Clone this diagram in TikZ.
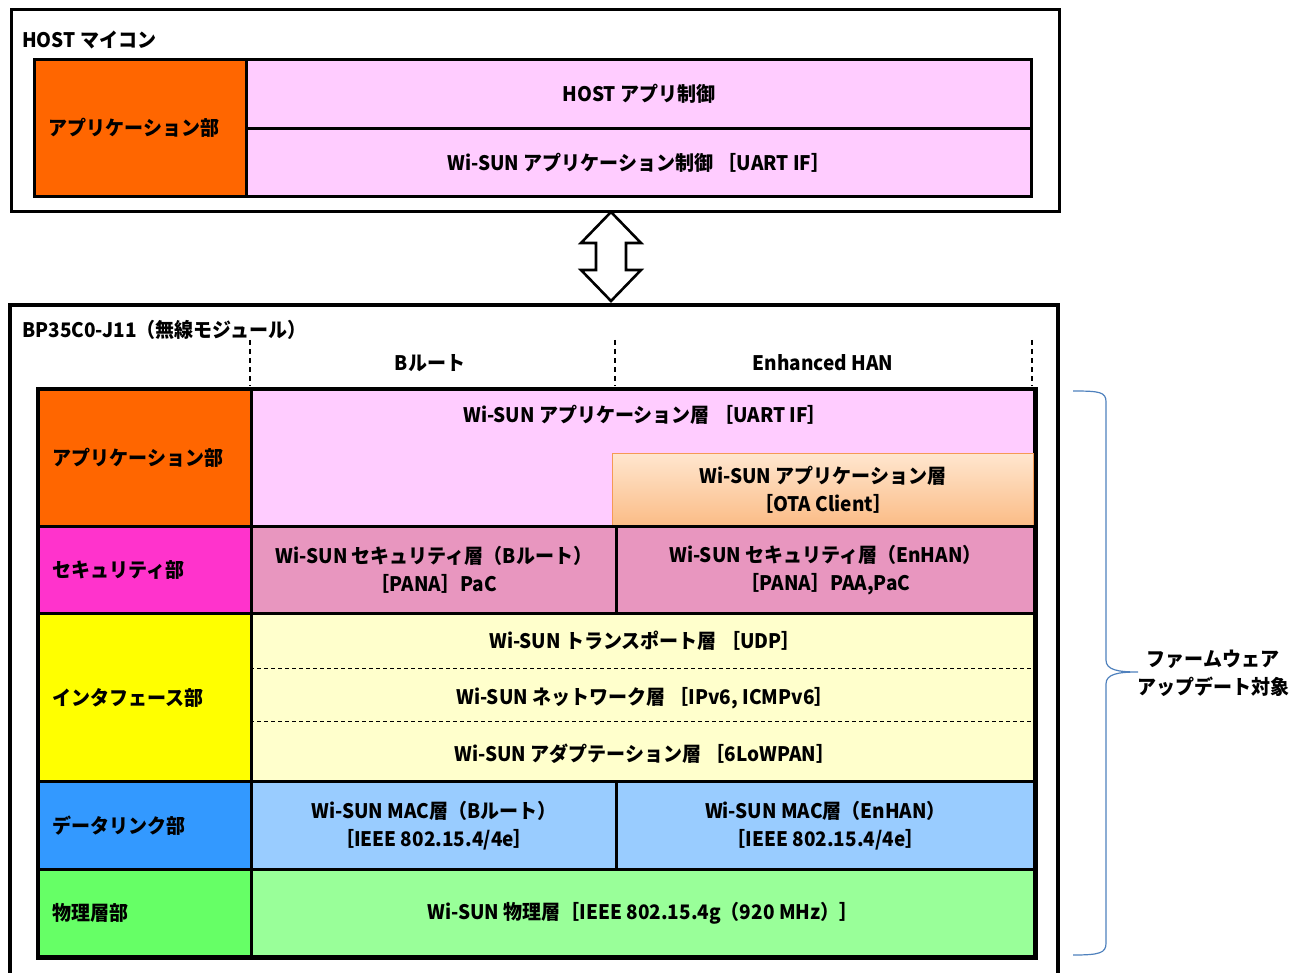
\documentclass[tikz,border=0pt]{standalone}
\usepackage{fontspec}
\setmainfont{Noto Sans CJK JP}[FakeStretch=0.95]
\usetikzlibrary{shadings}
\definecolor{cOrange}{HTML}{FF6600}
\definecolor{cPink}{HTML}{FFCCFF}
\definecolor{cMagenta}{HTML}{FF33CC}
\definecolor{cMauve}{HTML}{E896BF}
\definecolor{cYellow}{HTML}{FFFF00}
\definecolor{cLYellow}{HTML}{FFFFCC}
\definecolor{cBlue}{HTML}{3399FF}
\definecolor{cLBlue}{HTML}{99CCFF}
\definecolor{cGreen}{HTML}{66FF66}
\definecolor{cLGreen}{HTML}{99FF99}
\definecolor{cOtaTop}{HTML}{FFE6CE}
\definecolor{cOtaBot}{HTML}{FBBC86}
\definecolor{cOtaLine}{HTML}{F59A55}
\definecolor{cBrace}{HTML}{4F81BD}
\tikzset{
  x=1pt, y=-1pt,
  every node/.style={font=\fontsize{20}{28}\selectfont\bfseries},
  cell/.style={draw=black, line width=3pt, anchor=north west, inner sep=0pt, align=center},
  lcell/.style={cell, align=left, inner xsep=14pt},
  frame/.style={draw=black, line width=3.2pt},
  txt/.style={inner sep=0pt, align=center},
  otabox/.style={draw=cOtaLine, line width=1.2pt, anchor=north west, inner sep=0pt, align=center,
     top color=cOtaTop, bottom color=cOtaBot},
  sep/.style={draw=black, line width=1pt, dash pattern=on 4pt off 3pt},
  colsep/.style={draw=black, line width=1.2pt, dash pattern=on 5pt off 4pt},
  bigarrow/.style={draw=black, line width=2.6pt, fill=white, line join=miter},
  bracestyle/.style={draw=cBrace, line width=1.2pt}
}
\begin{document}
\begin{tikzpicture}
\useasboundingbox (0,0) rectangle (1295,973);
% ---------- HOST ----------
\node[frame, anchor=north west, minimum width=1048, minimum height=202, inner sep=0pt] (host) at (10,8) {};
\node[txt, anchor=west] (hostT) at (22,40) {HOST マイコン};
\node[lcell, fill=cOrange, minimum width=212, minimum height=137, text width=184] (hApp) at (33,58) {アプリケーション部};
\node[cell, fill=cPink, minimum width=785, minimum height=69] (hCtl) at (245,58) {HOST アプリ制御};
\node[cell, fill=cPink, minimum width=785, minimum height=68] (hWs) at (245,127) {Wi-SUN アプリケーション制御 ［UART IF］};
% ---------- arrow ----------
\coordinate (aTop) at (611,212);
\coordinate (aBot) at (611,301);
\draw[bigarrow] (aTop) -- ++(-30,31) -- ++(15,0) -- ++(0,27) -- ++(-15,0) -- (aBot)
   -- ++(30,-31) -- ++(-15,0) -- ++(0,-27) -- ++(15,0) -- cycle;
% ---------- MODULE ----------
\draw[frame] (10,985) -- (10,305) -- (1058,305) -- (1058,985);
\node[txt, anchor=west] (modT) at (22,330) {BP35C0-J11（無線モジュール）};
\draw[colsep] (250,340) -- (250,386);
\draw[colsep] (615,340) -- (615,386);
\draw[colsep] (1032,340) -- (1032,386);
\node[txt] (colB) at (430,363) {Bルート};
\node[txt] (colE) at (823,363) {Enhanced HAN};
% application row
\node[lcell, fill=cOrange, minimum width=213, minimum height=137, text width=185] (mApp) at (37,388) {アプリケーション部};
\node[cell, fill=cPink, minimum width=783, minimum height=137] (mAppC) at (250,388) {};
\node[txt] (mAppT) at (645,415) {Wi-SUN アプリケーション層 ［UART IF］};
\node[otabox, minimum width=421, minimum height=72] (ota) at (612,453) {Wi-SUN アプリケーション層\\［OTA Client］};
% security row
\node[lcell, fill=cMagenta, minimum width=213, minimum height=87, text width=185] (mSec) at (37,525) {セキュリティ部};
\node[cell, fill=cMauve, minimum width=365, minimum height=87] (secB) at (250,525) {Wi-SUN セキュリティ層（Bルート）\\［PANA］PaC};
\node[cell, fill=cMauve, minimum width=418, minimum height=87] (secE) at (615,525) {Wi-SUN セキュリティ層（EnHAN）\\［PANA］PAA,PaC};
% interface row
\node[lcell, fill=cYellow, minimum width=213, minimum height=168, text width=185] (mIf) at (37,612) {インタフェース部};
\node[cell, fill=cLYellow, minimum width=783, minimum height=168] (ifC) at (250,612) {};
\draw[sep] (ifC.west |- 0,668) -- (ifC.east |- 0,668);
\draw[sep] (ifC.west |- 0,721) -- (ifC.east |- 0,721);
\node[txt] (udp) at (645,641) {Wi-SUN トランスポート層 ［UDP］};
\node[txt] (ipv6) at (645,698) {Wi-SUN ネットワーク層 ［IPv6, ICMPv6］};
\node[txt] (lowpan) at (645,754) {Wi-SUN アダプテーション層 ［6LoWPAN］};
% data link row
\node[lcell, fill=cBlue, minimum width=213, minimum height=88, text width=185] (mDl) at (37,780) {データリンク部};
\node[cell, fill=cLBlue, minimum width=365, minimum height=88] (macB) at (250,780) {Wi-SUN MAC層（Bルート）\\［IEEE 802.15.4/4e］};
\node[cell, fill=cLBlue, minimum width=418, minimum height=88] (macE) at (615,780) {Wi-SUN MAC層（EnHAN）\\［IEEE 802.15.4/4e］};
% physical row
\node[lcell, fill=cGreen, minimum width=213, minimum height=87, text width=185] (mPhy) at (37,868) {物理層部};
\node[cell, fill=cLGreen, minimum width=783, minimum height=87] (phy) at (250,868) {Wi-SUN 物理層［IEEE 802.15.4g（920 MHz）］};
% outer frame of table redrawn on top
\draw[black, line width=3pt] (mApp.north west) rectangle (phy.south east);
% ---------- brace ----------
\coordinate (brTop) at (1073,391);
\coordinate (brBot) at (1073,955);
\coordinate (brTip) at (1138,672);
\draw[bracestyle] (brTop) .. controls (1100,391) and (1106,392) .. (1106,402)
   -- (1106,660) .. controls (1106,670) and (1118,672) .. (brTip)
   .. controls (1118,672) and (1106,674) .. (1106,684)
   -- (1106,943) .. controls (1106,953) and (1100,955) .. (brBot);
\node[txt] (fw) at (1213,673) {ファームウェア\\アップデート対象};
\end{tikzpicture}
\end{document}
